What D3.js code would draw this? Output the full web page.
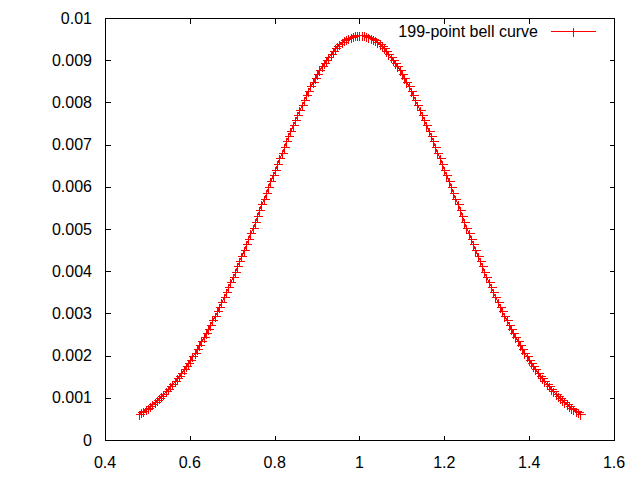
<!DOCTYPE html>
<html>
<head>
<meta charset="utf-8">
<script src="https://cdn.jsdelivr.net/npm/d3@7"></script>
<style>
  html, body { margin: 0; padding: 0; background: #fff; }
  svg { display: block; }
  text { font-family: "Liberation Sans", Arial, sans-serif; font-size: 16px; fill: #000; }
</style>
</head>
<body>
<svg id="chart" width="640" height="480"></svg>
<script>
const seriesName = "199-point bell curve";
const xTicks = [0.4, 0.6, 0.8, 1, 1.2, 1.4, 1.6];
const xTickLabels = ["0.4", "0.6", "0.8", "1", "1.2", "1.4", "1.6"];
const yTicks = [0, 0.001, 0.002, 0.003, 0.004, 0.005, 0.006, 0.007, 0.008, 0.009, 0.01];
const yTickLabels = ["0", "0.001", "0.002", "0.003", "0.004", "0.005", "0.006", "0.007", "0.008", "0.009", "0.01"];

const xValues = [
  0.4800, 0.4853, 0.4905, 0.4958, 0.5010, 0.5063, 0.5115, 0.5168, 0.5220, 0.5273,
  0.5325, 0.5378, 0.5430, 0.5483, 0.5535, 0.5588, 0.5640, 0.5693, 0.5745, 0.5798,
  0.5851, 0.5903, 0.5956, 0.6008, 0.6061, 0.6113, 0.6166, 0.6218, 0.6271, 0.6323,
  0.6376, 0.6428, 0.6481, 0.6533, 0.6586, 0.6638, 0.6691, 0.6743, 0.6796, 0.6848,
  0.6901, 0.6954, 0.7006, 0.7059, 0.7111, 0.7164, 0.7216, 0.7269, 0.7321, 0.7374,
  0.7426, 0.7479, 0.7531, 0.7584, 0.7636, 0.7689, 0.7741, 0.7794, 0.7846, 0.7899,
  0.7952, 0.8004, 0.8057, 0.8109, 0.8162, 0.8214, 0.8267, 0.8319, 0.8372, 0.8424,
  0.8477, 0.8529, 0.8582, 0.8634, 0.8687, 0.8739, 0.8792, 0.8844, 0.8897, 0.8949,
  0.9002, 0.9055, 0.9107, 0.9160, 0.9212, 0.9265, 0.9317, 0.9370, 0.9422, 0.9475,
  0.9527, 0.9580, 0.9632, 0.9685, 0.9737, 0.9790, 0.9842, 0.9895, 0.9947, 1.0000,
  1.0053, 1.0105, 1.0158, 1.0210, 1.0263, 1.0315, 1.0368, 1.0420, 1.0473, 1.0525,
  1.0578, 1.0630, 1.0683, 1.0735, 1.0788, 1.0840, 1.0893, 1.0946, 1.0998, 1.1051,
  1.1103, 1.1156, 1.1208, 1.1261, 1.1313, 1.1366, 1.1418, 1.1471, 1.1523, 1.1576,
  1.1628, 1.1681, 1.1733, 1.1786, 1.1838, 1.1891, 1.1943, 1.1996, 1.2048, 1.2101,
  1.2154, 1.2206, 1.2259, 1.2311, 1.2364, 1.2416, 1.2469, 1.2521, 1.2574, 1.2626,
  1.2679, 1.2731, 1.2784, 1.2836, 1.2889, 1.2941, 1.2994, 1.3046, 1.3099, 1.3152,
  1.3204, 1.3257, 1.3309, 1.3362, 1.3414, 1.3467, 1.3519, 1.3572, 1.3624, 1.3677,
  1.3729, 1.3782, 1.3834, 1.3887, 1.3939, 1.3992, 1.4044, 1.4097, 1.4149, 1.4202,
  1.4255, 1.4307, 1.4360, 1.4412, 1.4465, 1.4517, 1.4570, 1.4622, 1.4675, 1.4727,
  1.4780, 1.4832, 1.4885, 1.4937, 1.4990, 1.5042, 1.5095, 1.5147, 1.5200
];

const yValues = [
  0.000617, 0.000652, 0.000688, 0.000727, 0.000766, 0.000808, 0.000852, 0.000897, 0.000944, 0.000993,
  0.001044, 0.001097, 0.001152, 0.001210, 0.001269, 0.001330, 0.001394, 0.001460, 0.001528, 0.001599,
  0.001672, 0.001747, 0.001824, 0.001904, 0.001986, 0.002071, 0.002158, 0.002248, 0.002339, 0.002434,
  0.002530, 0.002629, 0.002730, 0.002834, 0.002940, 0.003048, 0.003158, 0.003271, 0.003386, 0.003502,
  0.003621, 0.003742, 0.003864, 0.003989, 0.004115, 0.004242, 0.004371, 0.004502, 0.004633, 0.004766,
  0.004900, 0.005035, 0.005171, 0.005307, 0.005444, 0.005582, 0.005719, 0.005857, 0.005995, 0.006133,
  0.006270, 0.006407, 0.006543, 0.006678, 0.006812, 0.006945, 0.007076, 0.007206, 0.007334, 0.007461,
  0.007586, 0.007707, 0.007827, 0.007944, 0.008058, 0.008170, 0.008278, 0.008383, 0.008485, 0.008583,
  0.008677, 0.008768, 0.008854, 0.008936, 0.009014, 0.009087, 0.009156, 0.009221, 0.009280, 0.009335,
  0.009385, 0.009430, 0.009469, 0.009504, 0.009533, 0.009557, 0.009576, 0.009589, 0.009597, 0.009600,
  0.009597, 0.009589, 0.009576, 0.009557, 0.009533, 0.009504, 0.009469, 0.009430, 0.009385,
  0.009335, 0.009280, 0.009221, 0.009156, 0.009087, 0.009014, 0.008936, 0.008854, 0.008768, 0.008677,
  0.008583, 0.008485, 0.008383, 0.008278, 0.008170, 0.008058, 0.007944, 0.007827, 0.007707, 0.007586,
  0.007461, 0.007334, 0.007206, 0.007076, 0.006945, 0.006812, 0.006678, 0.006543, 0.006407, 0.006270,
  0.006133, 0.005995, 0.005857, 0.005719, 0.005582, 0.005444, 0.005307, 0.005171, 0.005035, 0.004900,
  0.004766, 0.004633, 0.004502, 0.004371, 0.004242, 0.004115, 0.003989, 0.003864, 0.003742, 0.003621,
  0.003502, 0.003386, 0.003271, 0.003158, 0.003048, 0.002940, 0.002834, 0.002730, 0.002629, 0.002530,
  0.002434, 0.002339, 0.002248, 0.002158, 0.002071, 0.001986, 0.001904, 0.001824, 0.001747, 0.001672,
  0.001599, 0.001528, 0.001460, 0.001394, 0.001330, 0.001269, 0.001210, 0.001152, 0.001097, 0.001044,
  0.000993, 0.000944, 0.000897, 0.000852, 0.000808, 0.000766, 0.000727, 0.000688, 0.000652, 0.000617
];

const points = xValues.map((v, i) => ({ x: v, y: yValues[i] }));

const L = 105, R = 614, T = 18, B = 440;
const x = d3.scaleLinear().domain([0.4, 1.6]).range([L, R]);
const y = d3.scaleLinear().domain([0, 0.01]).range([B, T]);
const px = v => Math.round(x(v)) + 0.5;
const py = v => Math.round(y(v)) + 0.5;

const svg = d3.select("#chart");
const g = svg.append("g").attr("shape-rendering", "crispEdges");

const tickLen = 5;
// y ticks (left and mirrored right)
g.selectAll("path.yt").data(yTicks).enter().append("path")
  .attr("class", "yt")
  .attr("d", d => `M${L + 0.5},${py(d)}H${L + 0.5 + tickLen}M${R + 0.5},${py(d)}H${R + 0.5 - tickLen}`)
  .attr("stroke", "#000").attr("fill", "none");
// x ticks (bottom and mirrored top)
g.selectAll("path.xt").data(xTicks).enter().append("path")
  .attr("class", "xt")
  .attr("d", d => `M${px(d)},${B + 0.5}V${B + 0.5 - tickLen}M${px(d)},${T + 0.5}V${T + 0.5 + tickLen}`)
  .attr("stroke", "#000").attr("fill", "none");

// border
g.append("rect")
  .attr("x", L + 0.5).attr("y", T + 0.5)
  .attr("width", R - L).attr("height", B - T)
  .attr("fill", "none").attr("stroke", "#000");

// tick labels
svg.selectAll("text.yl").data(yTicks).enter().append("text")
  .attr("class", "yl")
  .attr("x", L - 13).attr("y", d => y(d))
  .attr("dy", "0.35em")
  .attr("text-anchor", "end")
  .text((d, i) => yTickLabels[i]);
svg.selectAll("text.xl").data(xTicks).enter().append("text")
  .attr("class", "xl")
  .attr("x", d => x(d)).attr("y", B + 22)
  .attr("dy", "0.35em")
  .attr("text-anchor", "middle")
  .text((d, i) => xTickLabels[i]);

// series line
const line = d3.line().x(d => px(d.x)).y(d => py(d.y));
g.append("path").datum(points)
  .attr("d", line)
  .attr("fill", "none").attr("stroke", "#ff0000").attr("stroke-width", 1);

// markers
const ms = 4;
g.selectAll("path.pt").data(points).enter().append("path")
  .attr("class", "pt")
  .attr("d", d => { const cx = px(d.x), cy = py(d.y); return `M${cx - ms},${cy}H${cx + ms + 1}M${cx},${cy - ms}V${cy + ms + 1}`; })
  .attr("stroke", "#ff0000").attr("fill", "none");

// legend
const legY = 31;
svg.append("text")
  .attr("x", 538).attr("y", legY)
  .attr("dy", "0.35em")
  .attr("text-anchor", "end")
  .text(seriesName);
g.append("path")
  .attr("d", `M551,${legY + 0.5}H596`)
  .attr("stroke", "#ff0000").attr("fill", "none");
g.append("path")
  .attr("d", `M573.5,${legY - ms + 0.5}V${legY + ms + 1.5}`)
  .attr("stroke", "#ff0000").attr("fill", "none");
</script>
</body>
</html>
